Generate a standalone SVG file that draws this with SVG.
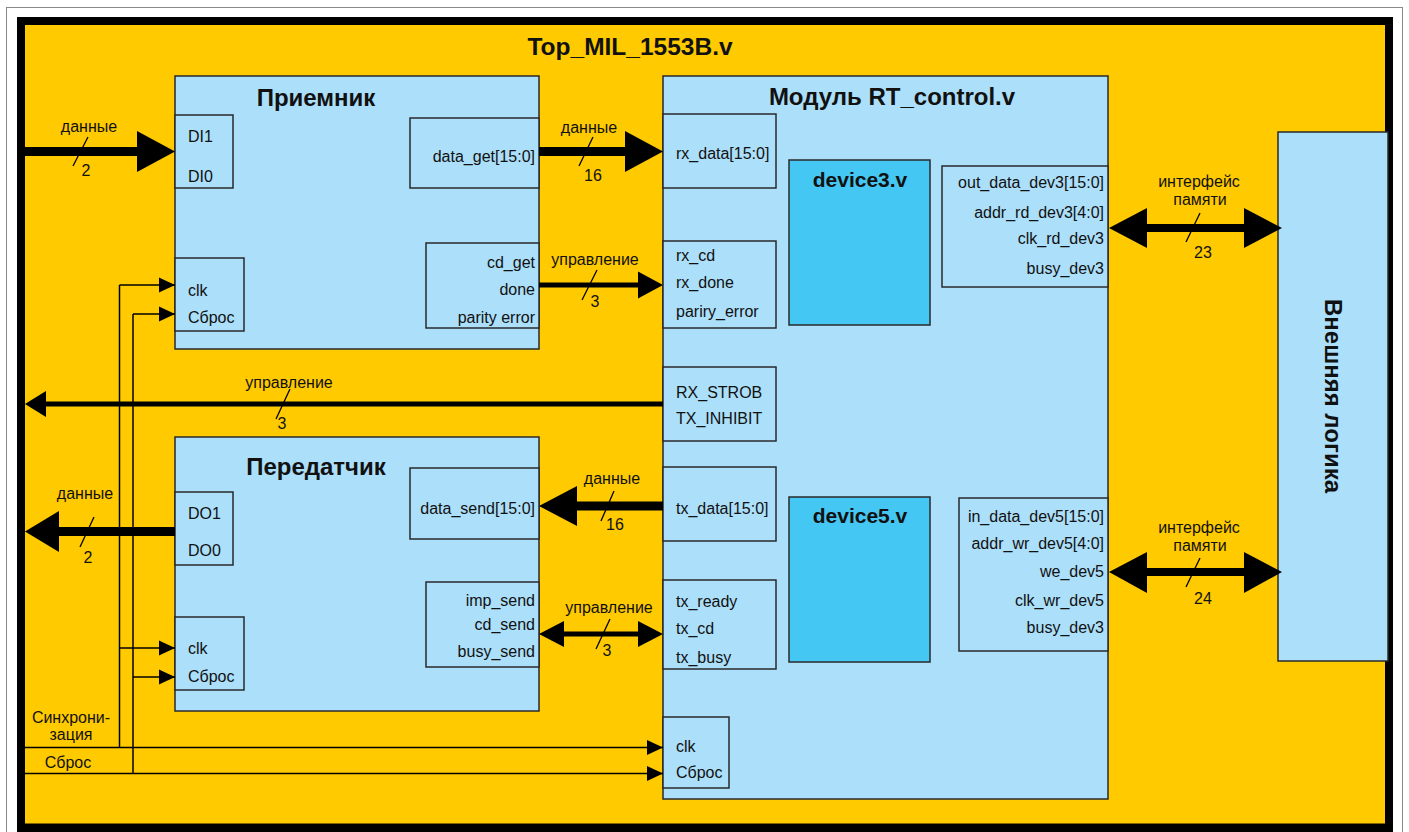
<svg xmlns="http://www.w3.org/2000/svg" width="1409" height="832" viewBox="0 0 1409 832">
<style>
text{font-family:"Liberation Sans",Arial,sans-serif;fill:#111}
.port{font-size:16px}
.lbl{font-size:16px;text-anchor:middle}
.r{text-anchor:end}
.title{font-size:24px;font-weight:bold;text-anchor:middle}
.dev{font-size:21px;font-weight:bold;text-anchor:middle}
.blk{fill:#ACDFFA;stroke:#2a2a2a;stroke-width:1.5}
.sub{fill:#ACDFFA;stroke:#2a2a2a;stroke-width:1.5}
.devbox{fill:#45C7F3;stroke:#2a2a2a;stroke-width:1.5}
.bus9{stroke:#000;stroke-width:9;fill:none}
.bus8{stroke:#000;stroke-width:8;fill:none}
.bus5{stroke:#000;stroke-width:5;fill:none}
.head{fill:#000}
.slash{stroke:#000;stroke-width:1.3}
.thin{stroke:#000;stroke-width:1.5;fill:none}
.thinA{stroke:#000;stroke-width:1.5;fill:none;marker-end:url(#ah)}
</style>
<defs>
<marker id="ah" markerUnits="userSpaceOnUse" markerWidth="17" markerHeight="16" refX="16" refY="8" orient="auto">
<path d="M0,0.5 L16,8 L0,15.5 z" fill="#000"/>
</marker>
</defs>
<rect x="6.5" y="7.5" width="1396" height="840" fill="#fff" stroke="#888" stroke-width="1"/>
<rect x="17" y="17" width="1376" height="820" fill="#000"/>
<rect x="25" y="25" width="1360" height="798.5" fill="#FFCA00"/>
<text class="title" x="630" y="55" style="font-size:24.5px">Top_MIL_1553B.v</text>

<g id="receiver">
<rect class="blk" x="175" y="76" width="364" height="273"/>
<text class="title" x="316" y="106">Приемник</text>
<rect class="sub" x="175" y="115" width="58" height="73"/>
<text class="port" x="188" y="142">DI1</text>
<text class="port" x="188" y="182">DI0</text>
<rect class="sub" x="175" y="258" width="69" height="73"/>
<text class="port" x="188" y="296">clk</text>
<text class="port" x="188" y="323">Сброс</text>
<rect class="sub" x="410" y="118" width="129" height="70"/>
<text class="port r" x="535" y="162">data_get[15:0]</text>
<rect class="sub" x="426" y="243" width="113" height="85"/>
<text class="port r" x="535" y="268">cd_get</text>
<text class="port r" x="535" y="295">done</text>
<text class="port r" x="535" y="323">parity error</text>
</g>

<g id="transmitter">
<rect class="blk" x="175" y="437" width="364" height="274"/>
<text class="title" x="316" y="475">Передатчик</text>
<rect class="sub" x="175" y="492" width="58" height="73"/>
<text class="port" x="188" y="519">DO1</text>
<text class="port" x="188" y="556">DO0</text>
<rect class="sub" x="175" y="617" width="69" height="73"/>
<text class="port" x="188" y="654">clk</text>
<text class="port" x="188" y="682">Сброс</text>
<rect class="sub" x="410" y="468" width="129" height="71"/>
<text class="port r" x="535" y="514">data_send[15:0]</text>
<rect class="sub" x="426" y="582" width="113" height="85"/>
<text class="port r" x="535" y="606">imp_send</text>
<text class="port r" x="535" y="630">cd_send</text>
<text class="port r" x="535" y="657">busy_send</text>
</g>

<g id="rt_control">
<rect class="blk" x="663" y="76" width="445" height="723"/>
<text class="title" x="892" y="105">Модуль RT_control.v</text>
<rect class="sub" x="663" y="114" width="113" height="74"/>
<text class="port" x="676" y="159">rx_data[15:0]</text>
<rect class="sub" x="663" y="241" width="113" height="87"/>
<text class="port" x="676" y="261">rx_cd</text>
<text class="port" x="676" y="288">rx_done</text>
<text class="port" x="676" y="317">pariry_error</text>
<rect class="sub" x="663" y="367" width="113" height="74"/>
<text class="port" x="676" y="398">RX_STROB</text>
<text class="port" x="676" y="424">TX_INHIBIT</text>
<rect class="sub" x="663" y="467" width="113" height="74"/>
<text class="port" x="676" y="514">tx_data[15:0]</text>
<rect class="sub" x="663" y="580" width="113" height="89"/>
<text class="port" x="676" y="607">tx_ready</text>
<text class="port" x="676" y="634">tx_cd</text>
<text class="port" x="676" y="663">tx_busy</text>
<rect class="sub" x="663" y="717" width="66" height="71"/>
<text class="port" x="676" y="752">clk</text>
<text class="port" x="676" y="778">Сброс</text>
<rect class="sub" x="942" y="166" width="166" height="121"/>
<text class="port r" x="1104" y="188">out_data_dev3[15:0]</text>
<text class="port r" x="1104" y="218">addr_rd_dev3[4:0]</text>
<text class="port r" x="1104" y="244">clk_rd_dev3</text>
<text class="port r" x="1104" y="274">busy_dev3</text>
<rect class="sub" x="959" y="498" width="149" height="153"/>
<text class="port r" x="1104" y="522">in_data_dev5[15:0]</text>
<text class="port r" x="1104" y="549">addr_wr_dev5[4:0]</text>
<text class="port r" x="1104" y="577">we_dev5</text>
<text class="port r" x="1104" y="606">clk_wr_dev5</text>
<text class="port r" x="1104" y="633">busy_dev3</text>
</g>

<g id="device3">
<rect class="devbox" x="789" y="160" width="141" height="165"/>
<text class="dev" x="860" y="187">device3.v</text>
</g>

<g id="device5">
<rect class="devbox" x="789" y="497" width="141" height="165"/>
<text class="dev" x="860" y="523">device5.v</text>
</g>

<g id="external_logic">
<rect class="blk" x="1278" y="132" width="110" height="529"/>
<text class="title" transform="translate(1325,396) rotate(90)">Внешняя логика</text>
</g>

<g id="connectors">
<line class="bus9" x1="25" y1="151.5" x2="138" y2="151.5"/>
<polygon class="head" points="137,131 175,151.5 137,172"/>
<line class="slash" x1="88" y1="137" x2="73" y2="166"/>
<text class="lbl" x="89" y="132">данные</text>
<text class="lbl" x="86" y="176">2</text>

<line class="bus9" x1="539" y1="151.5" x2="626" y2="151.5"/>
<polygon class="head" points="625,131 663,151.5 625,172"/>
<line class="slash" x1="593" y1="137" x2="579" y2="166"/>
<text class="lbl" x="589" y="133">данные</text>
<text class="lbl" x="593" y="181">16</text>

<line class="bus5" x1="539" y1="285" x2="639" y2="285"/>
<polygon class="head" points="638,271.5 663,285 638,298.5"/>
<line class="slash" x1="597" y1="270" x2="582" y2="300"/>
<text class="lbl" x="595" y="265">управление</text>
<text class="lbl" x="595" y="307">3</text>

<line class="bus5" x1="663" y1="404" x2="45" y2="404"/>
<polygon class="head" points="46,391 25,404 46,417"/>
<line class="slash" x1="290" y1="389" x2="276" y2="419"/>
<text class="lbl" x="289" y="388">управление</text>
<text class="lbl" x="282" y="429">3</text>

<line class="bus9" x1="175" y1="531.5" x2="58" y2="531.5"/>
<polygon class="head" points="59,511 25,531.5 59,552"/>
<line class="slash" x1="94" y1="517" x2="80" y2="547"/>
<text class="lbl" x="85" y="499">данные</text>
<text class="lbl" x="88" y="563">2</text>

<line class="bus9" x1="663" y1="506" x2="576" y2="506"/>
<polygon class="head" points="577,486 539,506 577,526"/>
<line class="slash" x1="614" y1="491" x2="601" y2="521"/>
<text class="lbl" x="612" y="484">данные</text>
<text class="lbl" x="615" y="530">16</text>

<line class="bus5" x1="563" y1="634" x2="639" y2="634"/>
<polygon class="head" points="564,621 539,634 564,647"/>
<polygon class="head" points="638,621 663,634 638,647"/>
<line class="slash" x1="610" y1="619" x2="596" y2="649"/>
<text class="lbl" x="609" y="613">управление</text>
<text class="lbl" x="607" y="656">3</text>

<line class="bus8" x1="1146" y1="228" x2="1245" y2="228"/>
<polygon class="head" points="1147,208 1109,228 1147,248"/>
<polygon class="head" points="1244,208 1282,228 1244,248"/>
<line class="slash" x1="1200" y1="213" x2="1186" y2="242"/>
<text class="lbl" x="1199" y="187">интерфейс</text>
<text class="lbl" x="1200" y="205">памяти</text>
<text class="lbl" x="1203" y="258">23</text>

<line class="bus8" x1="1146" y1="572" x2="1245" y2="572"/>
<polygon class="head" points="1147,552 1109,572 1147,593"/>
<polygon class="head" points="1244,552 1282,572 1244,593"/>
<line class="slash" x1="1200" y1="558" x2="1186" y2="587"/>
<text class="lbl" x="1199" y="533">интерфейс</text>
<text class="lbl" x="1200" y="551">памяти</text>
<text class="lbl" x="1203" y="604">24</text>

<path class="thin" d="M119.5,747.5 V285"/>
<path class="thinA" d="M25,747.5 H663"/>
<path class="thinA" d="M119.5,285 H175"/>
<path class="thinA" d="M119.5,648 H175"/>
<path class="thin" d="M133,773.5 V314"/>
<path class="thinA" d="M25,773.5 H663"/>
<path class="thinA" d="M133,314 H175"/>
<path class="thinA" d="M133,677 H175"/>
<text class="lbl" x="71" y="723">Синхрони-</text>
<text class="lbl" x="71" y="740">зация</text>
<text class="lbl" x="68" y="768">Сброс</text>
</g>
</svg>
